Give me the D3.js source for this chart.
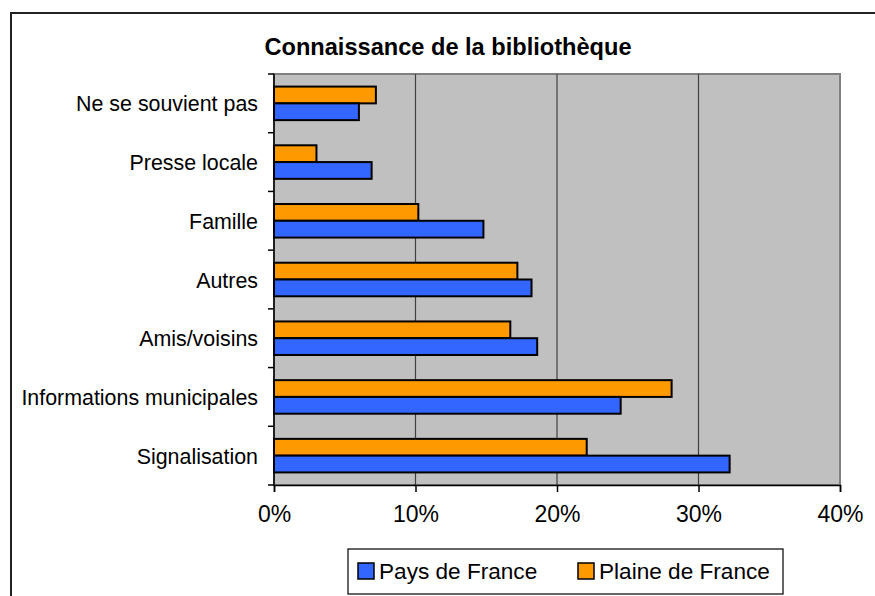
<!DOCTYPE html>
<html>
<head>
<meta charset="utf-8">
<script src="https://cdn.jsdelivr.net/npm/d3@7"></script>
<style>
  body { margin: 0; background: #fff; }
  svg { display: block; font-family: "Liberation Sans", Arial, sans-serif; }
</style>
</head>
<body>
<svg id="chart" width="875" height="596"></svg>
<script>
// Données ---------------------------------------------------------------
const categories = [
  "Ne se souvient pas",
  "Presse locale",
  "Famille",
  "Autres",
  "Amis/voisins",
  "Informations municipales",
  "Signalisation"
];
const seriesNames = ["Plaine de France", "Pays de France"];
const paysDeFrance = [6.0, 6.9, 14.8, 18.2, 18.6, 24.5, 32.2];
const plaineDeFrance = [7.2, 3.0, 10.2, 17.2, 16.7, 28.1, 22.1];
const xTicks = [0, 10, 20, 30, 40];
const colors = { "Pays de France": "#3366ff", "Plaine de France": "#ff9900" };
const legendOrder = ["Pays de France", "Plaine de France"];

const values = { "Pays de France": paysDeFrance, "Plaine de France": plaineDeFrance };

// Mise en page ----------------------------------------------------------
const svg = d3.select("#chart");
const plot = { left: 274, right: 840, top: 74, bottom: 485 };

const x = d3.scaleLinear().domain([0, 40]).range([plot.left, plot.right]);
const y = d3.scaleBand().domain(categories).range([plot.top, plot.bottom]).padding(0);
const ySub = d3.scaleBand().domain(seriesNames).range([0, y.bandwidth()])
  .paddingInner(0).paddingOuter(0.75);

// Cadre extérieur
svg.append("path")
  .attr("d", "M11,600 L11,13 L880,13")
  .attr("fill", "none").attr("stroke", "#222").attr("stroke-width", 2);

// Titre
svg.append("text")
  .attr("x", 448).attr("y", 55)
  .attr("text-anchor", "middle")
  .attr("font-size", 23.6).attr("font-weight", "bold")
  .text("Connaissance de la bibliothèque");

// Zone de tracé
svg.append("rect")
  .attr("x", plot.left).attr("y", plot.top)
  .attr("width", plot.right - plot.left).attr("height", plot.bottom - plot.top)
  .attr("fill", "#c0c0c0").attr("stroke", "#808080").attr("stroke-width", 2);

// Grille verticale
svg.append("g").selectAll("line")
  .data(xTicks.slice(1, -1))
  .join("line")
  .attr("x1", d => x(d)).attr("x2", d => x(d))
  .attr("y1", plot.top).attr("y2", plot.bottom)
  .attr("stroke", "#404040").attr("stroke-width", 1.2);

// Barres
const groups = svg.append("g").selectAll("g")
  .data(categories)
  .join("g")
  .attr("transform", d => `translate(0,${y(d)})`);

groups.selectAll("rect")
  .data((d, i) => seriesNames.map(s => ({ s, v: values[s][i] })))
  .join("rect")
  .attr("x", x(0))
  .attr("y", d => ySub(d.s))
  .attr("width", d => x(d.v) - x(0))
  .attr("height", ySub.bandwidth())
  .attr("fill", d => colors[d.s])
  .attr("stroke", "#000").attr("stroke-width", 2);

// Axe X
const xAxis = d3.axisBottom(x).tickValues(xTicks).tickFormat(d => d + "%")
  .tickSize(7).tickPadding(14);
const gx = svg.append("g").attr("transform", `translate(0,${plot.bottom})`).call(xAxis);
gx.select(".domain").attr("stroke", "#000").attr("stroke-width", 1.5);
gx.selectAll(".tick line").attr("stroke", "#000").attr("stroke-width", 1.5);
gx.selectAll("text").attr("font-size", 23).attr("fill", "#000")
  .attr("font-family", "Liberation Sans, Arial, sans-serif");

// Axe Y (graduations aux limites des catégories)
const yBounds = d3.range(categories.length + 1).map(i => plot.top + i * y.step());
svg.append("line")
  .attr("x1", plot.left).attr("x2", plot.left)
  .attr("y1", plot.top).attr("y2", plot.bottom)
  .attr("stroke", "#000").attr("stroke-width", 1.5);
svg.append("g").selectAll("line")
  .data(yBounds)
  .join("line")
  .attr("x1", plot.left - 6).attr("x2", plot.left)
  .attr("y1", d => d).attr("y2", d => d)
  .attr("stroke", "#000").attr("stroke-width", 1.5);

svg.append("g").selectAll("text")
  .data(categories)
  .join("text")
  .attr("x", 258)
  .attr("y", d => y(d) + y.bandwidth() / 2 + 8)
  .attr("text-anchor", "end")
  .attr("font-size", 21.4)
  .text(d => d);

// Légende
const legend = svg.append("g");
legend.append("rect")
  .attr("x", 348).attr("y", 549).attr("width", 435).attr("height", 45)
  .attr("fill", "#fff").attr("stroke", "#000").attr("stroke-width", 1.2);
const legendX = d3.scaleOrdinal().domain(legendOrder).range([358, 578]);
const items = legend.selectAll("g.item")
  .data(legendOrder)
  .join("g")
  .attr("class", "item")
  .attr("transform", d => `translate(${legendX(d)},0)`);
items.append("rect")
  .attr("x", 0).attr("y", 563).attr("width", 16).attr("height", 16)
  .attr("fill", d => colors[d]).attr("stroke", "#000").attr("stroke-width", 1.5);
items.append("text")
  .attr("x", 21).attr("y", 579)
  .attr("font-size", 22.6)
  .text(d => d);
</script>
</body>
</html>
